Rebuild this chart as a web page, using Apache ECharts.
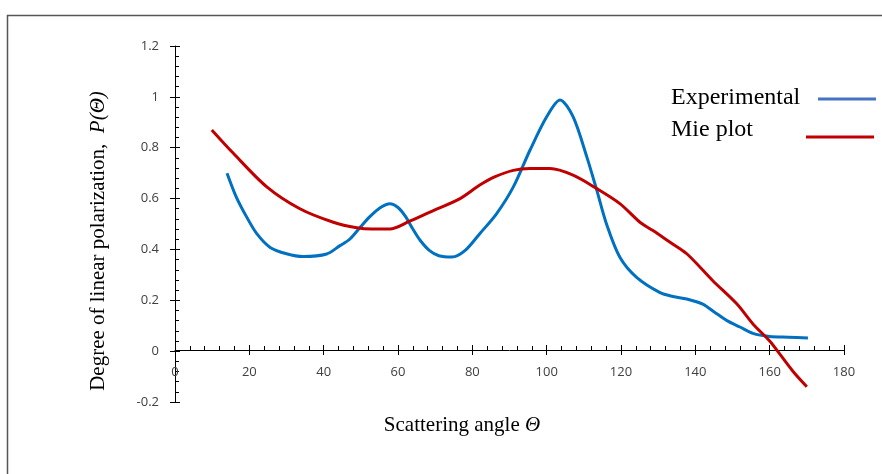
<!DOCTYPE html>
<html>
<head>
<meta charset="utf-8">
<script src="https://cdn.jsdelivr.net/npm/echarts@6/dist/echarts.min.js"></script>
<style>
  html, body { margin: 0; padding: 0; background: #fff; }
  #chart { width: 882px; height: 474px; }
</style>
</head>
<body>
<div id="chart"></div>
<script>
// scattering angle / degree of polarization
const expTheta = [14, 16.5, 19.3, 22, 25.6, 30, 34.5, 40.8, 44.4, 47, 50, 52.5, 55.3, 57.8, 60, 62, 64, 66, 68.5, 71, 74.5, 78, 82, 86.5, 91, 95.5, 100, 103.6, 107.1, 110.8, 113.5, 116.1, 119.7, 124.2, 130.5, 134, 137.7, 142, 145, 148.5, 152, 155.5, 160, 165, 170.3];
const expP = [0.70, 0.606, 0.527, 0.462, 0.408, 0.383, 0.372, 0.382, 0.415, 0.44, 0.49, 0.53, 0.565, 0.58, 0.565, 0.53, 0.48, 0.435, 0.395, 0.375, 0.37, 0.395, 0.462, 0.54, 0.645, 0.79, 0.922, 0.988, 0.922, 0.764, 0.632, 0.50, 0.369, 0.29, 0.23, 0.215, 0.205, 0.185, 0.155, 0.12, 0.095, 0.07, 0.058, 0.055, 0.052];

const mieTheta = [9.9, 15.7, 24.7, 33.6, 42.6, 48.9, 53, 57.8, 63, 68.6, 76.7, 81.9, 86, 91, 95.5, 100.9, 107.1, 113.5, 119.7, 125.1, 128.6, 133, 137.7, 144.7, 151.2, 155.5, 160, 162.8, 166.3, 170];
const mieP = [0.87, 0.778, 0.646, 0.56, 0.507, 0.485, 0.48, 0.48, 0.51, 0.547, 0.60, 0.652, 0.685, 0.711, 0.718, 0.718, 0.692, 0.639, 0.58, 0.507, 0.474, 0.43, 0.383, 0.277, 0.185, 0.107, 0.04, -0.013, -0.08, -0.14];

const xTicks = [0, 180, 20];   // min, max, step
const yTicks = [-0.2, 1.2, 0.2];

const zip = (a, b) => a.map((v, i) => [v, b[i]]);

const labelStyle = { color: "#404040", fontSize: 13, fontFamily: "Open Sans, sans-serif" };
const serif = "Liberation Serif, DejaVu Serif, serif";
// x axis sits at P = 0, i.e. one tick step above the grid bottom
const xAxisLift = -52;

const chart = echarts.init(document.getElementById("chart"));
chart.setOption({
  animation: false,
  grid: { left: 175, right: 38, top: 46, bottom: 72, outerBoundsMode: "none", containLabel: false },
  xAxis: [
    {
      type: "value",
      position: "bottom",
      offset: xAxisLift,
      min: xTicks[0], max: xTicks[1], interval: xTicks[2],
      axisLine: { onZero: false, lineStyle: { color: "#000", width: 1 } },
      axisTick: { show: true, inside: true, length: 5, lineStyle: { color: "#000" } },
      minorTick: { show: true, splitNumber: 5, length: 4, lineStyle: { color: "#000" } },
      splitLine: { show: false },
      axisLabel: Object.assign({ margin: 16 }, labelStyle)
    },
    {
      // outer half of the crossing major ticks
      type: "value",
      position: "bottom",
      offset: xAxisLift,
      min: xTicks[0], max: xTicks[1], interval: xTicks[2],
      axisLine: { show: false, onZero: false },
      axisTick: { show: true, inside: false, length: 5, lineStyle: { color: "#000" } },
      axisLabel: { show: false },
      splitLine: { show: false }
    }
  ],
  yAxis: [
    {
      type: "value",
      min: yTicks[0], max: yTicks[1], interval: yTicks[2],
      axisLine: { show: true, lineStyle: { color: "#000", width: 1 } },
      axisTick: { show: true, inside: true, length: 5, lineStyle: { color: "#000" } },
      minorTick: { show: true, splitNumber: 5, length: 4, lineStyle: { color: "#000" } },
      splitLine: { show: false },
      axisLabel: Object.assign({ margin: 16 }, labelStyle)
    },
    {
      type: "value",
      position: "left",
      min: yTicks[0], max: yTicks[1], interval: yTicks[2],
      axisLine: { show: false },
      axisTick: { show: true, inside: false, length: 5, lineStyle: { color: "#000" } },
      axisLabel: { show: false },
      splitLine: { show: false }
    }
  ],
  series: [
    {
      name: "Experimental",
      type: "line",
      smooth: 0.3,
      showSymbol: false,
      data: zip(expTheta, expP),
      lineStyle: { color: "#0070C0", width: 3 }
    },
    {
      name: "Mie plot",
      type: "line",
      smooth: 0.3,
      showSymbol: false,
      data: zip(mieTheta, mieP),
      lineStyle: { color: "#C00000", width: 3 }
    }
  ],
  graphic: [
    // frame (top and left edges visible)
    { type: "rect", left: 5, top: 13, shape: { width: 920, height: 520 },
      style: { fill: null, stroke: "#555", lineWidth: 1.5 }, silent: true },
    // axis titles
    { type: "text", x: 98, y: 241, rotation: Math.PI / 2,
      style: { text: "Degree of linear polarization,  {i|P(\u0398)}",
        font: "21px " + serif, fill: "#000", align: "center", verticalAlign: "middle",
        rich: { i: { fontStyle: "italic", fontFamily: serif, fontSize: 21 } } } },
    { type: "text", x: 462, y: 425,
      style: { text: "Scattering angle {i|\u0398}",
        font: "21px " + serif, fill: "#000", align: "center", verticalAlign: "middle",
        rich: { i: { fontStyle: "italic", fontFamily: serif, fontSize: 21 } } } },
    // legend
    { type: "text", x: 671, y: 98,
      style: { text: "Experimental", font: "24px " + serif, fill: "#000", verticalAlign: "middle" } },
    { type: "line", shape: { x1: 818, y1: 99, x2: 876, y2: 99 },
      style: { stroke: "#4472C4", lineWidth: 3 } },
    { type: "text", x: 671, y: 130,
      style: { text: "Mie plot", font: "24px " + serif, fill: "#000", verticalAlign: "middle" } },
    { type: "line", shape: { x1: 806, y1: 137, x2: 874, y2: 137 },
      style: { stroke: "#C00000", lineWidth: 3 } }
  ]
});
</script>
</body>
</html>
